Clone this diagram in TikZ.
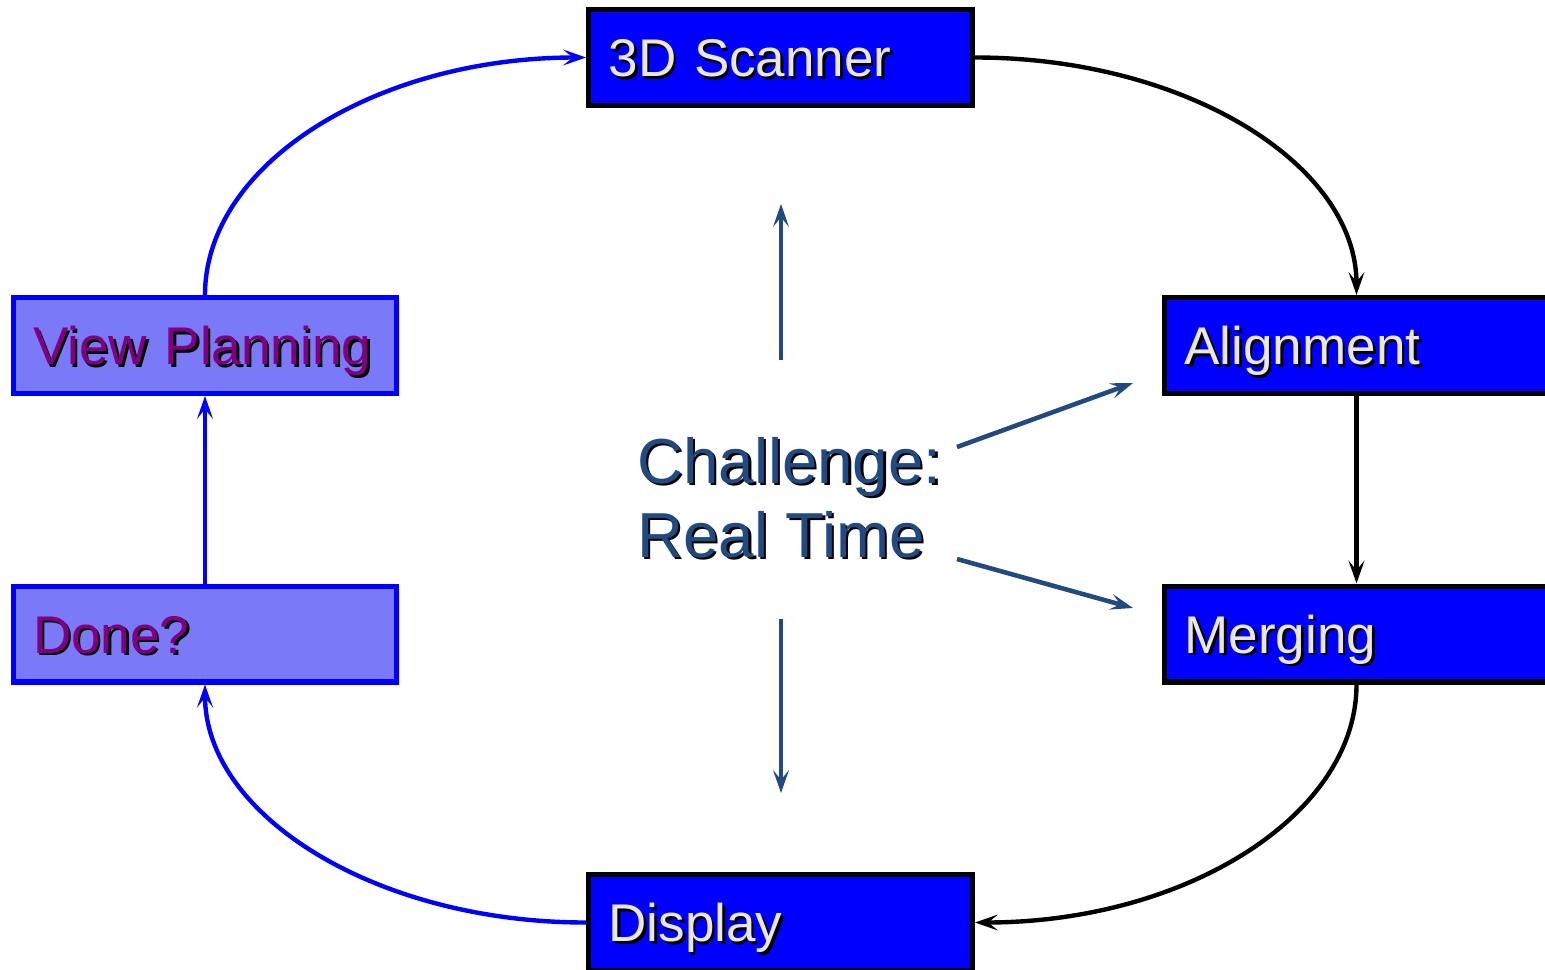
\documentclass[tikz,border=0pt]{standalone}
\usepackage{fontspec}
\setmainfont{Liberation Sans}
\usetikzlibrary{arrows.meta,shadows}
\definecolor{boxblue}{HTML}{0000FF}
\definecolor{lightboxc}{HTML}{7A7AF8}
\definecolor{boxtext}{HTML}{EBE7DF}
\definecolor{purpletext}{HTML}{800080}
\definecolor{chalblue}{HTML}{214B80}
\definecolor{shadowc}{HTML}{E6E2D6}
\newcommand\shtxt[2]{\makebox[0pt][l]{\kern1.4pt\raisebox{-1.4pt}{\textcolor{black}{#2}}}\textcolor{#1}{#2}}
\begin{document}
\begin{tikzpicture}[x=0.02cm,y=-0.02cm,
  box/.style={rectangle, line width=2.85pt, minimum width=7.68cm, minimum height=1.92cm,
    inner xsep=0.4cm, inner ysep=0pt, text width=6.88cm, align=left,
    text height=22pt, text depth=0pt, font=\fontsize{30.2}{36}\selectfont,
    drop shadow={shadow xshift=1.6pt, shadow yshift=-1.6pt, fill=shadowc, opacity=1}},
  darkbox/.style={box, draw=black, fill=boxblue},
  litebox/.style={box, draw=boxblue, fill=lightboxc},
  tipstyle/.style={-{Stealth[length=13pt,width=9pt,inset=5.5pt]}},
  blkarrow/.style={tipstyle, draw=black, line width=2.5pt},
  bluearrow/.style={tipstyle, draw=boxblue, line width=2.5pt},
  chalarrow/.style={tipstyle, draw=chalblue, line width=2.6pt},
  chaltext/.style={inner sep=0pt, align=left, font=\fontsize{36.2}{42.1}\selectfont}
]
\useasboundingbox (0,0) rectangle (1545,970);
\clip (0,0) rectangle (1545,970);

\node[darkbox] (scan)  at (780.5,57.5)  {\shtxt{boxtext}{3D Scanner}};
\node[darkbox] (align) at (1356.5,345.5) {\shtxt{boxtext}{Alignment}};
\node[darkbox] (merg)  at (1356.5,634)   {\shtxt{boxtext}{Merging}};
\node[darkbox] (disp)  at (780.5,922.5)  {\shtxt{boxtext}{Display}};
\node[litebox] (vp)    at (205,345.5)    {\shtxt{purpletext}{View Planning}};
\node[litebox] (done)  at (205,634)      {\shtxt{purpletext}{Done?}};

\node[chaltext, anchor=north west] (chal) at (637,437)
  {\shtxt{chalblue}{Challenge:}\\\shtxt{chalblue}{Real Time}};

\draw[blkarrow] (scan.east) .. controls +(210,0) and +(0,-131) .. (align.north);
\draw[blkarrow] (align.south) -- (merg.north);
\draw[blkarrow] (merg.south) .. controls +(0,131) and +(210,0) .. (disp.east);
\draw[bluearrow] (disp.west) .. controls +(-210,0) and +(0,131) .. (done.south);
\draw[bluearrow] (done.north) -- (vp.south);
\draw[bluearrow] (vp.north) .. controls +(0,-131) and +(-210,0) .. (scan.west);

\coordinate (upS) at (781,360);
\coordinate (upE) at (781,204);
\coordinate (dnS) at (781,619);
\coordinate (dnE) at (781,793);
\coordinate (urS) at (957,447);
\coordinate (urE) at (1133,383);
\coordinate (drS) at (957,559);
\coordinate (drE) at (1133,608);
\draw[chalarrow] (upS) -- (upE);
\draw[chalarrow] (dnS) -- (dnE);
\draw[chalarrow] (urS) -- (urE);
\draw[chalarrow] (drS) -- (drE);
\end{tikzpicture}
\end{document}
